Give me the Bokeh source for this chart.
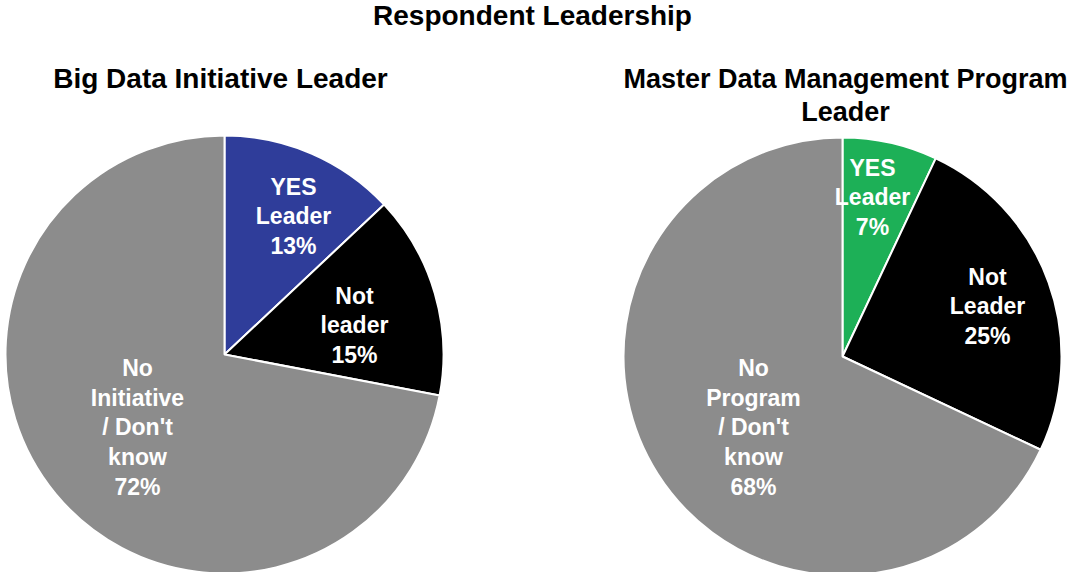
import math
from bokeh.plotting import figure
from bokeh.models import Range1d, ColumnDataSource
from bokeh.core.properties import value
from bokeh.embed import file_html
from bokeh.resources import INLINE

# ---- data ----
main_title = "Respondent Leadership"
left_title = "Big Data Initiative Leader"
right_title = "Master Data Management Program\nLeader"

left_labels = ["YES\nLeader", "Not\nleader", "No\nInitiative\n/ Don't\nknow"]
left_values = [13, 15, 72]
left_colors = ["#2F3D9A", "#000000", "#8C8C8C"]

right_labels = ["YES\nLeader", "Not\nLeader", "No\nProgram\n/ Don't\nknow"]
right_values = [7, 25, 68]
right_colors = ["#1DB057", "#000000", "#8C8C8C"]

# ---- layout (reference pixel coords, shifted to fit the canvas) ----
W, H = 1069, 572
SX, SY = 8, 5


def X(xpic):
    return xpic - SX


def Y(ypic):
    return H - (ypic - SY)


FONT = value("Liberation Sans")

p = figure(width=W, height=H, output_backend="svg", toolbar_location=None,
           x_range=Range1d(0, W), y_range=Range1d(0, H),
           min_border=0, outline_line_color=None, background_fill_color="white")
p.axis.visible = False
p.grid.visible = False


def pie(cx, cy, r, labels, values, colors, label_pos):
    total = float(sum(values))
    starts, ends = [], []
    acc = 0.0
    for v in values:
        starts.append(math.pi / 2 - 2 * math.pi * acc / total)
        acc += v
        ends.append(math.pi / 2 - 2 * math.pi * acc / total)
    src = ColumnDataSource(dict(x=[X(cx)] * len(values), y=[Y(cy)] * len(values),
                                start=starts, end=ends, color=colors))
    p.wedge(x="x", y="y", radius=r, start_angle="start", end_angle="end",
            direction="clock", fill_color="color", line_color="white",
            line_width=2, source=src)
    texts = [f"{l}\n{v}%" for l, v in zip(labels, values)]
    tsrc = ColumnDataSource(dict(x=[X(lp[0]) for lp in label_pos],
                                 y=[Y(lp[1]) for lp in label_pos],
                                 text=texts))
    p.text(x="x", y="y", text="text", source=tsrc, text_color="white",
           text_font=FONT, text_font_style="bold", text_font_size="23px",
           text_align="center", text_baseline="middle", text_line_height=1.15)


pie(232, 359, 219, left_labels, left_values, left_colors,
    [(301, 221), (362, 330), (145, 432)])
pie(850, 361, 219, right_labels, right_values, right_colors,
    [(880, 202), (995, 311), (761, 432)])

p.text(x=[X(540)], y=[Y(20)], text=[main_title], text_font=FONT,
       text_font_style="bold", text_font_size="28px", text_color="black",
       text_align="center", text_baseline="middle")
p.text(x=[X(228)], y=[Y(83)], text=[left_title], text_font=FONT,
       text_font_style="bold", text_font_size="28px", text_color="black",
       text_align="center", text_baseline="middle")
p.text(x=[X(853)], y=[Y(100)], text=[right_title], text_font=FONT,
       text_font_style="bold", text_font_size="27px", text_color="black",
       text_align="center", text_baseline="middle", text_line_height=1.1)

open("out.html", "w").write(file_html(p, INLINE))
